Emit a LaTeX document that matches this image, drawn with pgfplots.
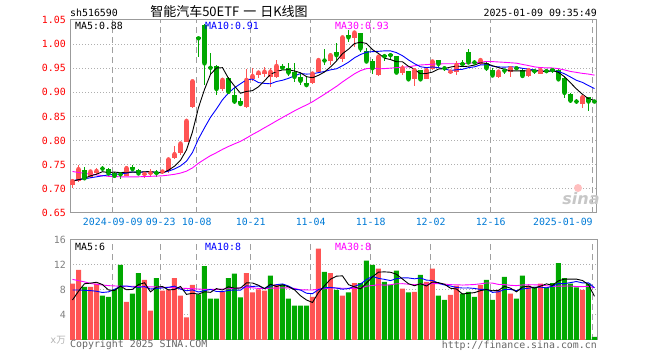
\documentclass[border=0pt]{standalone}
\usepackage{pgfplots}
\pgfplotsset{compat=1.18}
\usepackage{pgfplotstable}
\usepackage{fontspec}
\setmainfont{DejaVu Sans}
\newfontfamily\mono{DejaVu Sans Mono}
\newfontfamily\cjk{Noto Sans CJK SC}
\newcommand\monof{\mono\fontsize{9.9bp}{11bp}\selectfont}
\definecolor{kred}{RGB}{255,84,84}
\definecolor{kgreen}{RGB}{0,168,0}
\definecolor{gridc}{RGB}{175,175,175}
\definecolor{vgridc}{RGB}{160,160,160}
\definecolor{framec}{RGB}{155,155,155}
\definecolor{datec}{RGB}{0,122,214}
\definecolor{volc}{RGB}{128,128,128}
\definecolor{mablue}{RGB}{0,0,255}
\definecolor{mamag}{RGB}{255,0,255}

\pgfplotstableread{
i o h l c
0 0.709 0.720 0.701 0.716
1 0.716 0.749 0.715 0.741
3 0.725 0.739 0.723 0.736
4 0.732 0.743 0.729 0.737
9 0.727 0.746 0.726 0.743
12 0.730 0.735 0.722 0.731
13 0.732 0.742 0.725 0.733
15 0.734 0.740 0.731 0.736
16 0.738 0.763 0.733 0.761
17 0.763 0.789 0.761 0.772
18 0.774 0.796 0.771 0.794
19 0.798 0.844 0.797 0.841
20 0.870 0.924 0.868 0.923
25 0.907 0.929 0.902 0.926
29 0.870 0.948 0.868 0.926
30 0.927 0.950 0.924 0.934
31 0.937 0.945 0.929 0.941
32 0.939 0.953 0.932 0.943
33 0.932 0.950 0.912 0.943
34 0.931 0.967 0.929 0.955
40 0.919 0.943 0.917 0.939
41 0.943 0.970 0.941 0.967
43 0.964 0.981 0.957 0.977
45 0.970 1.015 0.963 1.014
47 1.012 1.024 0.995 1.024
51 0.936 0.974 0.934 0.974
55 0.941 0.957 0.936 0.950
57 0.927 0.947 0.913 0.946
59 0.928 0.952 0.927 0.946
60 0.948 0.967 0.946 0.964
63 0.941 0.946 0.939 0.943
64 0.943 0.964 0.936 0.957
68 0.959 0.967 0.957 0.967
71 0.932 0.946 0.930 0.943
73 0.943 0.953 0.932 0.950
76 0.934 0.949 0.932 0.946
78 0.939 0.949 0.938 0.946
85 0.876 0.892 0.867 0.890
}\redtab

\pgfplotstableread{
i o h l c
2 0.740 0.746 0.720 0.722
5 0.743 0.748 0.737 0.742
6 0.742 0.744 0.730 0.732
7 0.732 0.735 0.722 0.727
8 0.731 0.734 0.721 0.730
10 0.746 0.749 0.739 0.741
11 0.739 0.741 0.728 0.732
14 0.734 0.739 0.725 0.733
21 1.014 1.015 0.974 1.012
22 1.040 1.042 0.915 0.960
23 0.953 0.981 0.939 0.951
24 0.955 0.957 0.894 0.907
26 0.929 0.932 0.898 0.901
27 0.894 0.910 0.875 0.881
28 0.883 0.888 0.872 0.876
35 0.955 0.958 0.949 0.951
36 0.950 0.960 0.933 0.941
37 0.943 0.960 0.922 0.932
38 0.932 0.941 0.915 0.924
39 0.920 0.932 0.914 0.915
42 0.967 0.989 0.957 0.966
44 0.984 1.002 0.967 0.977
46 1.019 1.029 1.005 1.014
48 1.024 1.024 0.984 0.991
49 0.986 0.991 0.960 0.964
50 0.964 0.970 0.939 0.950
52 0.976 0.979 0.964 0.975
53 0.978 0.981 0.967 0.977
54 0.975 0.975 0.941 0.941
56 0.944 0.944 0.924 0.927
58 0.946 0.946 0.925 0.927
61 0.967 0.967 0.950 0.959
62 0.951 0.955 0.945 0.950
65 0.960 0.967 0.955 0.959
66 0.984 0.989 0.960 0.962
67 0.963 0.967 0.959 0.962
69 0.960 0.963 0.945 0.950
70 0.946 0.950 0.931 0.935
72 0.946 0.949 0.938 0.945
74 0.951 0.953 0.946 0.950
75 0.946 0.949 0.930 0.934
77 0.945 0.949 0.938 0.944
79 0.945 0.948 0.940 0.944
80 0.947 0.949 0.941 0.946
81 0.946 0.949 0.925 0.927
82 0.930 0.932 0.888 0.899
83 0.897 0.898 0.877 0.883
84 0.882 0.886 0.875 0.881
86 0.890 0.890 0.862 0.881
87 0.882 0.883 0.879 0.881
}\greentab

\pgfplotsset{
  panel/.style={scale only axis, width=527bp, xmin=-0.4167, xmax=87.42,
    axis line style={framec, line width=1bp}, major tick length=0pt,
    xtick={6.7,14.7,20.7,29.7,39.7,49.7,59.7,69.7,86.7},
    ymajorgrids,
    y grid style={gridc, line width=1bp, dash pattern=on 1bp off 2bp},
    yticklabel style={font=\monof, anchor=east, inner sep=0pt, xshift=-4bp},
    xticklabel style={font=\monof, text=datec, anchor=north, inner sep=0pt, yshift=-5bp},
    clip=true},
  vgrid/.style={vgridc, line width=1.2bp, dash pattern=on 6bp off 4bp, mark=none, forget plot},
  wick/.style={#1, only marks, mark=none, forget plot,
    error bars/.cd, y dir=both, y explicit, error mark=none,
    error bar style={line width=1bp, #1}},
  body/.style={#1, only marks, mark=-, mark size=2.2bp, mark options={line width=1bp, #1}, forget plot,
    error bars/.cd, y dir=both, y explicit, error mark=none,
    error bar style={line width=4.4bp, #1}},
  vbar/.style={ybar, bar width=5bp, bar shift=0pt, fill=#1, draw=none, forget plot},
  maline/.style={#1, line width=0.9bp, mark=none, forget plot}
}

\begin{document}
\begin{tikzpicture}
\path[use as bounding box] (0bp,0bp) rectangle (660bp,360bp);

% ---------- price panel ----------
\begin{axis}[panel, at={(70bp,147bp)}, anchor=south west, height=193bp,
  ymin=0.65, ymax=1.05,
  ytick={0.65,0.70,0.75,0.80,0.85,0.90,0.95,1.00,1.05},
  yticklabels={0.65,0.70,0.75,0.80,0.85,0.90,0.95,1.00,1.05},
  yticklabel style={text=red},
  xticklabels={2024-09-09,09-23,10-08,10-21,11-04,11-18,12-02,12-16,\makebox[0pt][r]{2025-01-09}}]

% vertical date grid lines
\addplot[vgrid] coordinates {(6.7,0.65)(6.7,1.05)};
\addplot[vgrid] coordinates {(14.7,0.65)(14.7,1.05)};
\addplot[vgrid] coordinates {(20.7,0.65)(20.7,1.05)};
\addplot[vgrid] coordinates {(29.7,0.65)(29.7,1.05)};
\addplot[vgrid] coordinates {(39.7,0.65)(39.7,1.05)};
\addplot[vgrid] coordinates {(49.7,0.65)(49.7,1.05)};
\addplot[vgrid] coordinates {(59.7,0.65)(59.7,1.05)};
\addplot[vgrid] coordinates {(69.7,0.65)(69.7,1.05)};
\addplot[vgrid] coordinates {(86.7,0.65)(86.7,1.05)};

\addplot[wick=kred] table[x=i, y=c, y error plus expr=\thisrow{h}-\thisrow{c}, y error minus expr=\thisrow{c}-\thisrow{l}] {\redtab};
\addplot[body=kred] table[x=i, y expr=(\thisrow{o}+\thisrow{c})/2, y error expr=abs(\thisrow{c}-\thisrow{o})/2] {\redtab};
\addplot[wick=kgreen] table[x=i, y=c, y error plus expr=\thisrow{h}-\thisrow{c}, y error minus expr=\thisrow{c}-\thisrow{l}] {\greentab};
\addplot[body=kgreen] table[x=i, y expr=(\thisrow{o}+\thisrow{c})/2, y error expr=abs(\thisrow{c}-\thisrow{o})/2] {\greentab};

% MA30
\addplot[maline=mamag] coordinates {(0,.736)(1,.734)(2,.732)(3,.7305)(4,.729)(5,.7275)(6,.726)(7,.7255)(8,.725)(9,.725)(10,.725)(11,.725)(12,.7255)(13,.726)(14,.7265)(15,.7271)(16,.7285)(17,.7302)(18,.7327)(19,.7367)(20,.7435)(21,.7532)(22,.7612)(23,.7689)(24,.7751)(25,.7819)(26,.7879)(27,.7933)(28,.7985)(29,.8054)(30,.8127)(31,.8194)(32,.8267)(33,.8336)(34,.8409)(35,.8479)(36,.8548)(37,.8617)(38,.8681)(39,.8739)(40,.8805)(41,.8883)(42,.8961)(43,.9043)(44,.9124)(45,.9217)(46,.9301)(47,.9385)(48,.9451)(49,.9492)(50,.9501)(51,.9488)(52,.9493)(53,.9502)(54,.9513)(55,.9521)(56,.9530)(57,.9551)(58,.9568)(59,.9575)(60,.9585)(61,.9591)(62,.9593)(63,.9593)(64,.9594)(65,.9597)(66,.9604)(67,.9614)(68,.9628)(69,.9640)(70,.9638)(71,.9630)(72,.9623)(73,.9614)(74,.9605)(75,.9579)(76,.9556)(77,.9529)(78,.9514)(79,.9508)(80,.9506)(81,.9491)(82,.9465)(83,.9434)(84,.9414)(85,.9394)(86,.9379)(87,.9357)};
% MA10
\addplot[maline=mablue] coordinates {(0,.717)(1,.719)(2,.721)(3,.723)(4,.725)(5,.727)(6,.729)(7,.730)(8,.731)(9,.7326)(10,.7351)(11,.7342)(12,.7351)(13,.7348)(14,.7344)(15,.7338)(16,.7367)(17,.7412)(18,.7476)(19,.7574)(20,.7756)(21,.8036)(22,.8265)(23,.8483)(24,.8657)(25,.8847)(26,.8987)(27,.9096)(28,.9178)(29,.9263)(30,.9274)(31,.9203)(32,.9186)(33,.9178)(34,.9226)(35,.9251)(36,.9291)(37,.9342)(38,.9390)(39,.9379)(40,.9384)(41,.9410)(42,.9433)(43,.9467)(44,.9489)(45,.9552)(46,.9625)(47,.9717)(48,.9784)(49,.9833)(50,.9844)(51,.9851)(52,.9860)(53,.9860)(54,.9824)(55,.9760)(56,.9673)(57,.9595)(58,.9531)(59,.9513)(60,.9527)(61,.9512)(62,.9487)(63,.9453)(64,.9469)(65,.9478)(66,.9513)(67,.9529)(68,.9569)(69,.9573)(70,.9544)(71,.9528)(72,.9523)(73,.9530)(74,.9523)(75,.9498)(76,.9482)(77,.9464)(78,.9443)(79,.9437)(80,.9448)(81,.9432)(82,.9386)(83,.9319)(84,.9250)(85,.9206)(86,.9141)(87,.9078)};
% MA5
\addplot[maline=black] coordinates {(0,.716)(1,.719)(2,.722)(3,.727)(4,.7304)(5,.7356)(6,.7338)(7,.7348)(8,.7336)(9,.7348)(10,.7346)(11,.7346)(12,.7354)(13,.7360)(14,.7340)(15,.7330)(16,.7388)(17,.7470)(18,.7592)(19,.7808)(20,.8182)(21,.8684)(22,.9060)(23,.9374)(24,.9506)(25,.9512)(26,.9290)(27,.9132)(28,.8982)(29,.9020)(30,.9036)(31,.9116)(32,.9240)(33,.9374)(34,.9432)(35,.9466)(36,.9466)(37,.9444)(38,.9406)(39,.9326)(40,.9302)(41,.9354)(42,.9422)(43,.9528)(44,.9652)(45,.9802)(46,.9896)(47,1.0012)(48,1.0040)(49,1.0014)(50,.9886)(51,.9806)(52,.9708)(53,.9680)(54,.9634)(55,.9634)(56,.9540)(57,.9482)(58,.9382)(59,.9392)(60,.9420)(61,.9484)(62,.9492)(63,.9524)(64,.9546)(65,.9536)(66,.9542)(67,.9566)(68,.9614)(69,.9600)(70,.9552)(71,.9514)(72,.9480)(73,.9446)(74,.9446)(75,.9444)(76,.9450)(77,.9448)(78,.9440)(79,.9428)(80,.9452)(81,.9414)(82,.9324)(83,.9198)(84,.9072)(85,.8960)(86,.8868)(87,.8832)};
\end{axis}

% ---------- volume panel ----------
\begin{axis}[panel, at={(70bp,20bp)}, anchor=south west, height=100bp,
  ymin=0, ymax=16, ytick={4,8,12,16}, yticklabels={4,8,12,16},
  yticklabel style={text=volc},
  xticklabels={\relax,\relax,\relax,\relax,\relax,\relax,\relax,\relax,\relax}]

\addplot[vgrid] coordinates {(6.7,0)(6.7,16)};
\addplot[vgrid] coordinates {(14.7,0)(14.7,16)};
\addplot[vgrid] coordinates {(20.7,0)(20.7,16)};
\addplot[vgrid] coordinates {(29.7,0)(29.7,16)};
\addplot[vgrid] coordinates {(39.7,0)(39.7,16)};
\addplot[vgrid] coordinates {(49.7,0)(49.7,16)};
\addplot[vgrid] coordinates {(59.7,0)(59.7,16)};
\addplot[vgrid] coordinates {(69.7,0)(69.7,16)};
\addplot[vgrid] coordinates {(86.7,0)(86.7,16)};

\addplot[vbar=kred] coordinates {(0,9.0)(1,11.2)(3,8.5)(4,9.0)(9,6.1)(12,9.6)(13,4.7)(15,7.9)(16,8.0)(17,9.9)(18,7.1)(19,3.6)(20,8.8)(25,7.7)(29,10.7)(30,7.6)(31,8.1)(32,7.9)(34,8.9)(40,6.9)(41,14.6)(43,10.7)(45,7.1)(47,9.1)(51,11.4)(55,8.2)(57,7.7)(59,9.3)(60,11.4)(63,7.2)(64,8.7)(68,8.8)(71,8.0)(73,7.4)(76,8.7)(78,9.0)(85,8.0)};
\addplot[vbar=kgreen] coordinates {(2,8.5)(5,7.1)(6,6.9)(7,8.1)(8,12.0)(10,7.4)(11,10.7)(14,9.9)(21,7.3)(22,11.8)(23,6.6)(24,6.6)(26,9.9)(27,10.6)(28,6.8)(33,10.3)(35,8.9)(36,6.6)(37,5.5)(38,5.5)(39,5.5)(42,10.9)(44,8.0)(46,7.6)(48,9.1)(49,12.7)(50,12.0)(52,9.3)(53,8.8)(54,11.1)(56,7.6)(58,10.4)(61,7.1)(62,6.4)(65,7.4)(66,7.7)(67,6.9)(69,9.6)(70,6.4)(72,10.1)(74,6.6)(75,10.3)(77,8.5)(79,8.4)(80,9.1)(81,12.3)(82,9.9)(83,9.0)(84,8.4)(86,9.0)(87,0.5)};
% vol MA30
\addplot[maline=mamag] coordinates {(0,9.7)(1,9.5)(2,9.3)(3,9.05)(4,8.9)(5,8.8)(6,8.7)(7,8.65)(8,8.6)(9,8.6)(10,8.6)(11,8.55)(12,8.5)(13,8.5)(14,8.5)(15,8.45)(16,8.4)(17,8.35)(18,8.3)(19,8.25)(20,8.2)(21,8.15)(22,8.1)(23,8.1)(24,8.1)(25,8.15)(26,8.2)(27,8.25)(28,8.35)(29,8.4)(30,8.35)(31,8.25)(32,8.23)(33,8.29)(34,8.29)(35,8.35)(36,8.34)(37,8.25)(38,8.03)(39,8.01)(40,8.0)(41,8.13)(42,8.17)(43,8.37)(44,8.31)(45,8.28)(46,8.27)(47,8.24)(48,8.31)(49,8.61)(50,8.72)(51,8.85)(52,8.77)(53,8.84)(54,8.99)(55,9.01)(56,8.93)(57,8.84)(58,8.96)(59,8.91)(60,9.04)(61,9.0)(62,8.95)(63,8.85)(64,8.84)(65,8.79)(66,8.83)(67,8.88)(68,8.99)(69,9.12)(70,9.11)(71,8.89)(72,8.86)(73,8.75)(74,8.7)(75,8.81)(76,8.85)(77,8.83)(78,8.82)(79,8.68)(80,8.58)(81,8.61)(82,8.63)(83,8.64)(84,8.55)(85,8.54)(86,8.59)(87,8.35)};
% vol MA10
\addplot[maline=mablue] coordinates {(0,8.0)(1,8.0)(2,7.95)(3,7.9)(4,7.8)(5,7.6)(6,7.7)(7,8.1)(8,8.6)(9,8.64)(10,8.48)(11,8.43)(12,8.54)(13,8.16)(14,8.25)(15,8.33)(16,8.44)(17,8.62)(18,8.13)(19,7.88)(20,8.02)(21,7.68)(22,7.9)(23,8.09)(24,7.76)(25,7.74)(26,7.93)(27,8.0)(28,7.97)(29,8.68)(30,8.56)(31,8.64)(32,8.25)(33,8.62)(34,8.85)(35,8.97)(36,8.64)(37,8.13)(38,8.0)(39,7.48)(40,7.41)(41,8.06)(42,8.36)(43,8.4)(44,8.31)(45,8.13)(46,8.23)(47,8.59)(48,8.95)(49,9.67)(50,10.18)(51,9.86)(52,9.7)(53,9.51)(54,9.82)(55,9.93)(56,9.93)(57,9.79)(58,9.92)(59,9.58)(60,9.52)(61,9.09)(62,8.8)(63,8.64)(64,8.4)(65,8.32)(66,8.33)(67,8.25)(68,8.09)(69,8.12)(70,7.62)(71,7.71)(72,8.08)(73,8.1)(74,7.89)(75,8.18)(76,8.28)(77,8.44)(78,8.46)(79,8.34)(80,8.61)(81,9.04)(82,9.02)(83,9.18)(84,9.36)(85,9.13)(86,9.16)(87,8.36)};
% vol MA5
\addplot[maline=black] coordinates {(0,6.4)(1,7.8)(2,9.0)(3,9.1)(4,9.24)(5,8.86)(6,8.0)(7,7.92)(8,8.62)(9,8.04)(10,8.1)(11,8.86)(12,9.16)(13,7.7)(14,8.46)(15,8.56)(16,8.02)(17,8.08)(18,8.56)(19,7.3)(20,7.48)(21,7.34)(22,7.72)(23,7.62)(24,8.22)(25,8.0)(26,8.52)(27,8.28)(28,8.32)(29,9.14)(30,9.12)(31,8.76)(32,8.22)(33,8.92)(34,8.56)(35,8.82)(36,8.52)(37,8.04)(38,7.08)(39,6.4)(40,6.0)(41,7.6)(42,8.68)(43,9.72)(44,10.22)(45,10.26)(46,8.86)(47,8.5)(48,8.18)(49,9.12)(50,10.1)(51,10.86)(52,10.9)(53,10.84)(54,10.52)(55,9.76)(56,9.0)(57,8.68)(58,9.0)(59,8.64)(60,9.28)(61,9.18)(62,8.92)(63,8.28)(64,8.16)(65,7.36)(66,7.48)(67,7.58)(68,7.9)(69,8.08)(70,7.88)(71,7.94)(72,8.58)(73,8.3)(74,7.7)(75,8.48)(76,8.62)(77,8.3)(78,8.62)(79,8.98)(80,8.74)(81,9.46)(82,9.74)(83,9.74)(84,9.74)(85,9.52)(86,8.86)(87,6.98)};
\end{axis}

% ---------- texts ----------
\node[anchor=west, inner sep=0pt, font=\monof] at (70bp,347bp) {sh516590};
\node[inner sep=0pt, font=\cjk\fontsize{13bp}{14bp}\selectfont] at (229bp,348bp) {智能汽车50ETF\hspace{4bp}一\hspace{4bp}日K线图};
\node[anchor=east, inner sep=0pt, font=\monof] at (597bp,347bp) {2025-01-09 09:35:49};

\node[anchor=west, inner sep=0pt, font=\monof, text=black] at (75bp,334bp) {MA5:0.88};
\node[anchor=west, inner sep=0pt, font=\monof, text=mablue] at (205bp,334bp) {MA10:0.91};
\node[anchor=west, inner sep=0pt, font=\monof, text=mamag] at (335bp,334bp) {MA30:0.93};

\node[anchor=west, inner sep=0pt, font=\monof, text=black] at (75bp,113bp) {MA5:6};
\node[anchor=west, inner sep=0pt, font=\monof, text=mablue] at (205bp,113bp) {MA10:8};
\node[anchor=west, inner sep=0pt, font=\monof, text=mamag] at (335bp,113bp) {MA30:8};

\node[anchor=east, inner sep=0pt, text=black!30] at (66bp,20bp) {{\monof x}{\cjk\fontsize{9.5bp}{10bp}\selectfont 万}};

\node[anchor=west, inner sep=0pt, font=\monof, text=black!60] at (70bp,15bp) {Copyright 2025 SINA.COM};
\node[anchor=east, inner sep=0pt, font=\monof, text=black!60] at (597bp,14bp) {http://finance.sina.com.cn};

\fill[red!25] (578bp,172bp) circle (4bp);
\node[inner sep=0pt, text=black!22, font=\bfseries\itshape\fontsize{16bp}{16bp}\selectfont] at (581bp,161bp) {sina};
\end{tikzpicture}
\end{document}
